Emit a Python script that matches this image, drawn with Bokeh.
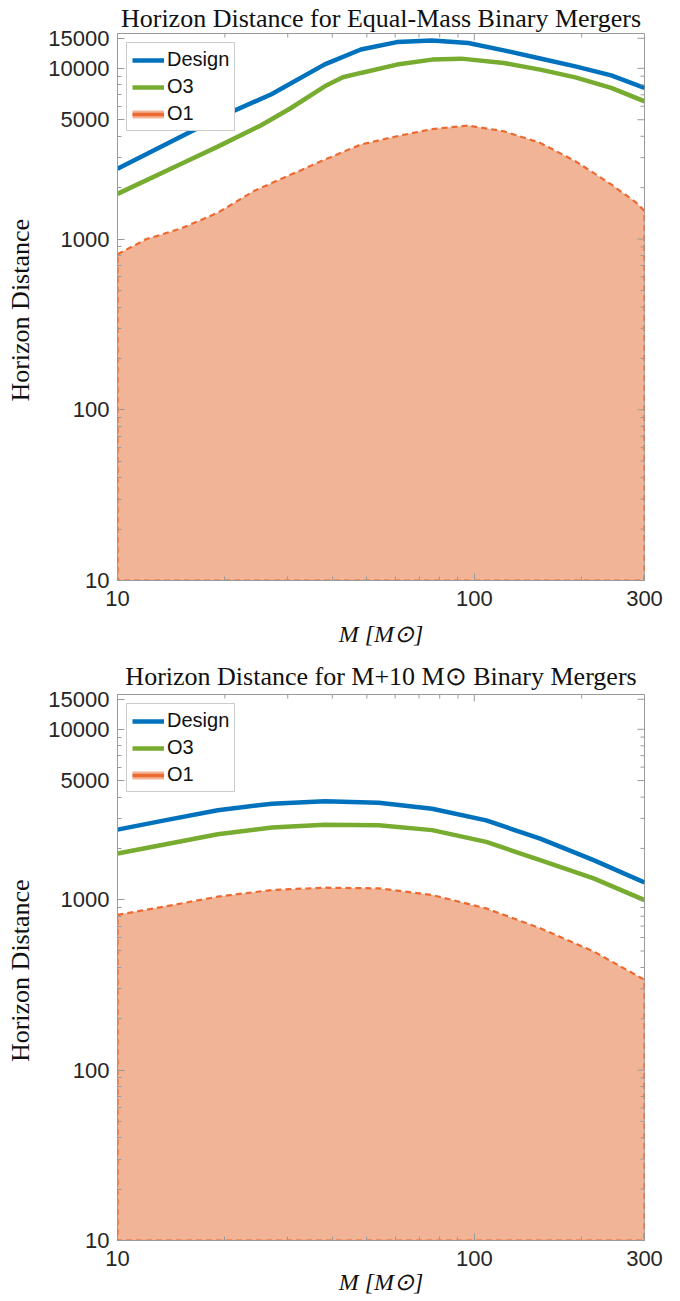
import math
from bokeh.plotting import figure
from bokeh.layouts import column
from bokeh.models import Range1d, FixedTicker, NumeralTickFormatter, Legend, LegendItem
from bokeh.embed import file_html
from bokeh.resources import INLINE

# ---------------- data ----------------
# Top panel: equal-mass binaries
top_design_M = [10, 19.1, 27.0, 38.1, 48.1, 60.7, 76.2, 96.2, 121, 153, 192, 242, 300]
top_design_D = [2580, 5120, 7050, 10550, 12900, 14250, 14580, 14070, 12740, 11430, 10270, 9100, 7680]

top_o3_M = [10, 15.1, 19.1, 25.2, 30.4, 38.1, 42.8, 48.1, 60.7, 76.2, 91.9, 121, 153, 192, 242, 300]
top_o3_D = [1840, 2760, 3480, 4625, 5800, 7850, 8870, 9400, 10520, 11250, 11400, 10750, 9830, 8850, 7680, 6410]

top_o1_M = [10, 12.06, 15.1, 19.1, 24.1, 30.4, 38.1, 48.1, 60.7, 76.2, 96.2, 121, 153, 192, 242, 285, 300]
top_o1_D = [815, 1000, 1155, 1426, 1910, 2370, 2920, 3580, 4000, 4410, 4620, 4280, 3660, 2860, 2090, 1630, 1460]

# Bottom panel: M + 10 Msun binaries
bot_M = [10, 13.55, 19.1, 27.1, 38.1, 54.0, 76.2, 108, 153, 216, 300]
bot_design_D = [2576, 2920, 3350, 3660, 3780, 3710, 3420, 2920, 2280, 1706, 1262]
bot_o3_D = [1866, 2107, 2423, 2650, 2755, 2735, 2560, 2183, 1706, 1333, 995]

bot_o1_M = [10, 13.55, 19.1, 27.1, 38.1, 54.0, 76.2, 108, 153, 216, 252, 300]
bot_o1_D = [815, 911, 1042, 1140, 1176, 1165, 1065, 889, 680, 497, 415, 339]

x_ticks = [10, 100, 300]
x_minor = [20, 30, 40, 50, 60, 70, 80, 90, 200]
y_ticks = [10, 100, 1000, 5000, 10000, 15000]
y_minor = [20, 30, 40, 50, 60, 70, 80, 90, 200, 300, 400, 500, 600, 700, 800, 900,
           2000, 3000, 4000, 6000, 7000, 8000, 9000]

X_MIN, X_MAX = 10, 300
Y_MIN, Y_MAX = 10, 16000

titles = ["Horizon Distance for Equal-Mass Binary Mergers",
          "Horizon Distance for M+10 M\u2299 Binary Mergers"]

BLUE = "#0072BD"
GREEN = "#77AC30"
ORANGE = "#EC6A2F"
SALMON = "#F2B496"
FRAME = "#9a9a9a"
TXT = "#262626"
SANS = "Liberation Sans"
SERIF = "Liberation Serif"


def make_fig(title, height, btop, bbot, tstand, xl_stand, dM, dD, oM, oD, o1M, o1D):
    p = figure(width=680, height=height, x_axis_type="log", y_axis_type="log",
               x_range=Range1d(X_MIN, X_MAX), y_range=Range1d(Y_MIN, Y_MAX),
               output_backend="svg", toolbar_location=None,
               min_border_left=117, min_border_right=36,
               min_border_top=btop, min_border_bottom=bbot)
    p.title.text = title
    p.title.align = "center"
    p.title.text_font = SERIF
    p.title.text_font_size = "26px"
    p.title.text_font_style = "normal"
    p.title.text_color = "#111111"
    p.title.standoff = tstand
    p.grid.visible = False
    p.outline_line_color = FRAME
    p.outline_line_width = 1
    p.background_fill_color = "white"

    # O1 filled area with dashed outline
    px = list(o1M) + [X_MAX, X_MIN]
    py = list(o1D) + [Y_MIN, Y_MIN]
    p.patch(px, py, fill_color=SALMON, fill_alpha=1.0, line_color=ORANGE,
            line_width=2.2, line_dash="6 4")

    r_design = p.line(dM, dD, line_color=BLUE, line_width=4.5)
    r_o3 = p.line(oM, oD, line_color=GREEN, line_width=4.5)
    # single-point lines: draw nothing in the frame, only serve as legend swatch
    r_o1a = p.line(o1M[:1], o1D[:1], line_color=SALMON, line_width=8)
    r_o1b = p.line(o1M[:1], o1D[:1], line_color=ORANGE, line_width=3.5)

    xt = FixedTicker(ticks=x_ticks, minor_ticks=x_minor)
    yt = FixedTicker(ticks=y_ticks, minor_ticks=y_minor)
    fmt = NumeralTickFormatter(format="0")

    for ax, t in ((p.xaxis, xt), (p.yaxis, yt)):
        ax.ticker = t
        ax.formatter = fmt
        ax.axis_line_color = FRAME
        ax.major_tick_line_color = FRAME
        ax.minor_tick_line_color = FRAME
        ax.major_tick_in = 7
        ax.major_tick_out = 0
        ax.minor_tick_in = 4
        ax.minor_tick_out = 0
        ax.major_label_text_font = SANS
        ax.major_label_text_font_size = "22px"
        ax.major_label_text_color = TXT
        ax.axis_label_text_font = SERIF
        ax.axis_label_text_color = "#111111"

    p.xaxis.axis_label = "M [M\u2299]"
    p.xaxis.axis_label_text_font_size = "24px"
    p.xaxis.axis_label_text_font_style = "italic"
    p.xaxis.major_label_standoff = 10
    p.xaxis.axis_label_standoff = xl_stand
    p.yaxis.axis_label = "Horizon  Distance"
    p.yaxis.axis_label_text_font_size = "26px"
    p.yaxis.axis_label_text_font_style = "normal"
    p.yaxis.major_label_standoff = 8
    p.yaxis.axis_label_standoff = 10

    # ticks on the right and top edges of the box (drawn as short rays)
    p.ray(x=[X_MAX] * len(y_ticks), y=y_ticks, length=7, length_units="screen",
          angle=math.pi, line_color=FRAME, line_width=1)
    p.ray(x=[X_MAX] * len(y_minor), y=y_minor, length=4, length_units="screen",
          angle=math.pi, line_color=FRAME, line_width=1)
    p.ray(x=x_ticks, y=[Y_MAX] * len(x_ticks), length=7, length_units="screen",
          angle=-math.pi / 2, line_color=FRAME, line_width=1)
    p.ray(x=x_minor, y=[Y_MAX] * len(x_minor), length=4, length_units="screen",
          angle=-math.pi / 2, line_color=FRAME, line_width=1)

    legend = Legend(items=[LegendItem(label="Design", renderers=[r_design]),
                           LegendItem(label="O3", renderers=[r_o3]),
                           LegendItem(label="O1", renderers=[r_o1a, r_o1b])],
                    location="top_left")
    legend.margin = 9
    legend.padding = 5
    legend.spacing = 4
    legend.glyph_width = 32
    legend.glyph_height = 22
    legend.label_height = 22
    legend.label_standoff = 3
    legend.label_text_font = SANS
    legend.label_text_font_size = "20px"
    legend.label_text_color = "#111111"
    legend.border_line_color = FRAME
    legend.border_line_width = 1
    legend.background_fill_color = "white"
    legend.background_fill_alpha = 1.0
    p.add_layout(legend, "center")
    return p


top = make_fig(titles[0], 655, 33, 75, 2, 12, top_design_M, top_design_D,
               top_o3_M, top_o3_D, top_o1_M, top_o1_D)
bot = make_fig(titles[1], 646, 39, 61, 8, 0, bot_M, bot_design_D,
               bot_M, bot_o3_D, bot_o1_M, bot_o1_D)

layout = column(top, bot)
open("out.html", "w").write(file_html(layout, INLINE))
